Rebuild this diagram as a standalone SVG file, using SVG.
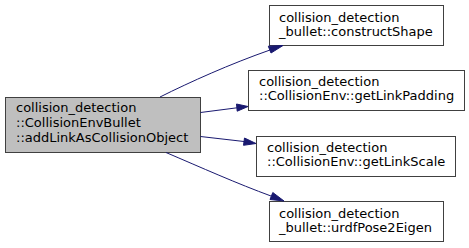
<svg xmlns="http://www.w3.org/2000/svg" width="469" height="248" viewBox="0 0 469 248">
  <style>
    .node rect { fill: #ffffff; stroke: #404040; stroke-width: 1; }
    .node.main rect { fill: #bfbfbf; }
    .node text { font-family: "DejaVu Sans", sans-serif; font-size: 13px; fill: #000000; }
    .edge path { fill: none; stroke: #191970; stroke-width: 1; }
    .edge polygon { fill: #191970; stroke: #191970; stroke-width: 1; }
  </style>

  <g id="node-main" class="node main">
    <rect x="5.5" y="97.5" width="195" height="55"/>
    <text x="16" y="112">collision_detection</text>
    <text x="16" y="127">::CollisionEnvBullet</text>
    <text x="16" y="142">::addLinkAsCollisionObject</text>
  </g>

  <g id="node-constructShape" class="node">
    <rect x="269.5" y="5.5" width="174" height="40"/>
    <text x="279" y="22">collision_detection</text>
    <text x="279" y="36">_bullet::constructShape</text>
  </g>

  <g id="node-getLinkPadding" class="node">
    <rect x="248.5" y="70.5" width="216" height="40"/>
    <text x="259" y="86">collision_detection</text>
    <text x="259" y="100">::CollisionEnv::getLinkPadding</text>
  </g>

  <g id="node-getLinkScale" class="node">
    <rect x="256.5" y="136.5" width="199" height="40"/>
    <text x="267" y="152">collision_detection</text>
    <text x="267" y="166">::CollisionEnv::getLinkScale</text>
  </g>

  <g id="node-urdfPose2Eigen" class="node">
    <rect x="269.5" y="201.5" width="174" height="40"/>
    <text x="279" y="218">collision_detection</text>
    <text x="279" y="232">_bullet::urdfPose2Eigen</text>
  </g>

  <g id="edges" class="edge">
    <path d="M160,97 C190,82 230,64 270,50"/>
    <polygon points="268.3,46.2 283,45.5 271,53"/>
    <path d="M200.5,112.5 L237,107.8"/>
    <polygon points="236.5,104 248,106.5 237.2,111.2"/>
    <path d="M200.5,136.5 L244,141.5"/>
    <polygon points="244.5,138 256,143.5 243.5,145.3"/>
    <path d="M166,152.5 C200,167 238,184 271,196"/>
    <polygon points="272.8,192.5 284,201 270,199.5"/>
  </g>
</svg>
